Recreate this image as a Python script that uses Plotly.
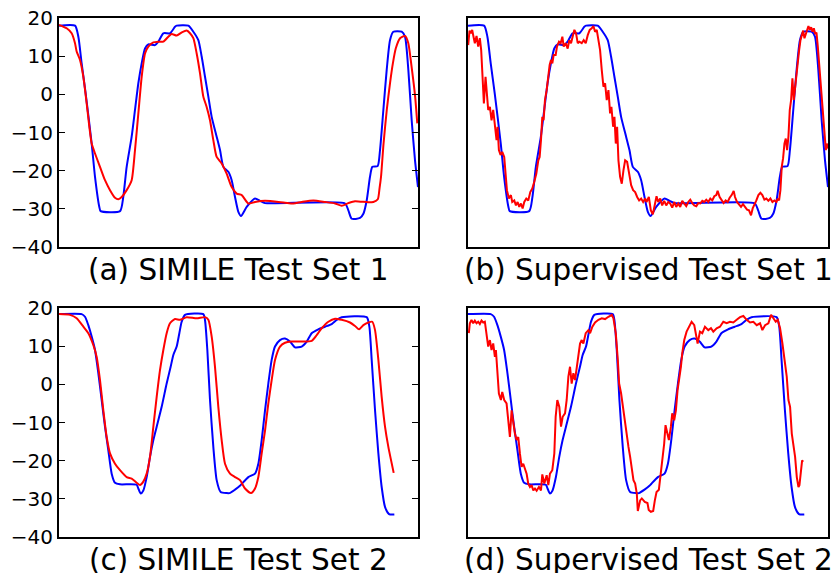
import plotly.graph_objects as go

# ---------------- Test set 1 ----------------
truth1_t = [0, 4.46, 5.39, 6.31, 7.43, 9.1, 10.03, 11.23, 11.6, 17.0, 17.9, 18.85, 20.24, 21.17,
            22.1, 23.03, 23.96, 24.88, 26.74, 27.67, 29.06, 30.92, 32.31, 32.78, 36.03, 37.42,
            38.81, 39.74, 40.67, 41.6, 42.53, 43.92, 44.85, 45.78, 47.17, 48.1, 49.03, 49.96,
            50.7, 52.28, 54.6, 56.0, 57.39, 79.67, 80.6, 81.53, 83.85, 84.78, 85.71, 86.63,
            87.28, 88.77, 89.42, 90.35, 91.28, 92.2, 93.13, 95.46, 96.38, 97.31, 98.24, 99.17, 100]
truth1_v = [18.0, 18.0, 15.1, 8.1, 0.2, -12.9, -21.6, -29.5, -30.6, -30.6, -26.9, -19.0, -11.1, -4.1,
            2.9, 8.1, 12.0, 13.1, 12.9, 13.8, 16.0, 16.0, 17.7, 18.0, 18.0, 16.4,
            14.2, 9.9, 4.6, -0.6, -5.9, -11.1, -14.6, -19.0, -20.3, -22.5, -26.9, -30.8,
            -31.9, -29.5, -27.3, -27.9, -28.5, -28.6, -30.4, -32.6, -32.4, -31.3, -27.8, -21.6,
            -19.0, -18.8, -14.6, -4.1, 6.4, 14.2, 16.4, 16.4, 15.1, 6.4, -6.8, -17.3, -24.3]

simile1_t = [0, 2.14, 3.53, 4.46, 4.92, 5.85, 6.78, 7.71, 8.45, 9.1, 10.03, 11.42, 12.81, 14.21,
             15.6, 16.53, 17.46, 18.85, 20.24, 21.17, 22.1, 23.03, 23.96, 24.88, 26.28, 27.67,
             29.06, 30.45, 31.38, 32.78, 34.17, 35.56, 36.49, 37.42, 38.35, 39.28, 40.2, 41.13,
             42.06, 42.99, 43.92, 45.31, 46.7, 48.1, 49.49, 50.9, 52.74, 54.6, 57.39, 62.96,
             65.28, 67.6, 70.85, 74.1, 76.9, 78.74, 80.6, 82.45, 86.17, 87.56, 88.8, 89.3,
             89.7, 90.4, 91.3, 92.2, 93.0, 93.8, 95.0, 96.4, 97.3, 98.2, 99.2, 99.8]
simile1_v = [18.2, 17.3, 16.0, 13.4, 11.2, 9.0, 4.6, -2.4, -8.5, -12.9, -15.5, -19.0, -22.5, -25.1,
             -27.1, -27.5, -26.9, -25.1, -22.5, -14.6, -5.0, 4.6, 10.7, 12.5, 13.6, 13.8,
             13.8, 15.1, 15.8, 15.4, 16.2, 16.7, 16.0, 14.7, 10.7, 5.5, -0.6, -3.3,
             -6.8, -12.0, -16.4, -18.1, -20.8, -24.3, -26.0, -26.4, -28.6, -28.2, -27.9, -28.4,
             -28.6, -28.2, -27.8, -28.2, -28.6, -29.2, -28.5, -28.0, -28.3, -28.2, -27.5, -24.5,
             -21.6, -12.9, -4.1, 2.9, 8.1, 12.0, 14.7, 15.3, 13.4, 7.3, -0.6, -7.6]

sup1_t = [0.05, 0.42, 0.79, 1.16, 1.53, 1.9, 2.37, 2.83, 3.29, 3.66, 4.04, 4.41, 4.87, 5.24, 5.61,
          6.08, 6.54, 7.0, 7.47, 7.93, 8.21, 8.58, 9.04, 9.51, 10.06, 10.44, 10.81, 11.36, 11.92,
          12.29, 12.85, 13.31, 13.78, 14.24, 14.7, 15.17, 15.63, 16.19, 16.74, 17.3, 17.86, 18.41,
          18.97, 19.53, 19.9, 20.27, 20.64, 21.0, 21.38, 21.85, 22.31, 22.68, 23.05, 23.42, 23.79,
          24.35, 24.72, 25.28, 25.74, 26.21, 26.58, 27.13, 27.69, 28.15, 28.62, 29.08, 29.55,
          30.01, 30.48, 30.94, 31.59, 32.14, 32.7, 33.26, 33.81, 34.37, 34.83, 35.3, 35.76, 36.23,
          36.69, 37.15, 37.62, 38.08, 38.54, 39.01, 39.47, 39.84, 40.31, 40.68, 41.05, 41.42,
          41.79, 42.25, 42.72, 43.18, 43.65, 44.2, 44.76, 45.32, 45.87, 46.43, 46.99, 47.54, 48.1,
          48.65, 49.21, 49.58, 50.23, 50.79, 51.35, 51.9, 52.37, 52.83, 53.39, 53.94, 54.5, 55.06,
          55.61, 56.17, 56.73, 57.28, 57.84, 58.4, 58.95, 59.51, 60.07, 60.62, 61.18, 61.74, 62.29,
          62.85, 63.41, 63.96, 64.52, 65.08, 65.63, 66.19, 66.75, 67.3, 67.86, 68.42, 68.97, 69.34,
          69.9, 70.46, 71.01, 71.57, 72.13, 72.68, 73.24, 73.8, 74.17, 74.72, 75.28, 75.84, 76.39,
          76.95, 77.51, 78.06, 78.62, 79.08, 79.55, 80.1, 80.66, 81.22, 81.77, 82.33, 82.89, 83.44,
          84.0, 84.56, 85.11, 85.67, 86.04, 86.41, 86.78, 87.15, 87.52, 87.9, 88.27, 88.64, 89.01,
          89.38, 89.75, 90.12, 90.49, 90.86, 91.23, 91.61, 91.98, 92.35, 92.72, 93.09, 93.46,
          93.83, 94.2, 94.57, 94.94, 95.32, 95.69, 96.06, 96.43, 96.8, 97.17, 97.54, 97.91, 98.28,
          98.65, 99.03, 99.4, 99.68, 99.96]
sup1_v = [12.9, 16.7, 16.0, 16.9, 15.1, 13.4, 15.3, 12.5, 14.7, 11.6, 4.6, -2.4, 4.6, 1.1, -4.1,
          -3.3, -6.8, -4.1, -7.6, -12.0, -8.5, -14.6, -15.9, -15.1, -16.4, -20.8, -25.1, -27.3, -26.4,
          -28.2, -27.8, -29.1, -28.2, -29.5, -28.6, -29.9, -28.2, -27.3, -27.8, -25.6, -24.7, -22.9,
          -20.8, -17.3, -16.4, -12.0, -5.9, -6.8, -1.5, 1.1, 5.5, 7.7, 9.0, 8.1, 10.3,
          10.3, 12.5, 13.8, 13.4, 15.1, 12.5, 13.4, 12.0, 14.2, 13.4, 15.1, 16.9,
          16.0, 13.4, 13.8, 13.4, 14.2, 13.4, 15.5, 16.9, 17.3, 17.9, 16.4, 16.9, 14.2,
          11.6, 6.4, 2.0, 2.9, -1.5, 1.1, -5.0, -3.3, -8.5, -5.9, -12.9, -8.5,
          -17.3, -21.6, -23.4, -19.9, -17.3, -17.7, -20.8, -23.8, -25.1, -25.6, -26.9, -27.8, -27.3,
          -28.2, -27.3, -28.2, -26.9, -30.4, -31.4, -28.6, -26.7, -28.2, -27.3, -29.1, -27.9, -29.1,
          -28.2, -28.6, -29.7, -28.2, -29.5, -28.6, -29.5, -27.9, -28.5, -29.3, -28.2, -27.6, -28.5,
          -29.1, -29.3, -28.5, -28.6, -27.9, -28.2, -27.6, -28.2, -27.3, -27.8, -26.7, -26.4, -25.3,
          -26.9, -27.9, -28.5, -27.8, -28.2, -27.1, -26.4, -25.3, -26.9, -28.2, -28.8, -29.5, -28.8,
          -29.5, -30.2, -30.4, -31.7, -29.9, -29.1, -27.8, -26.4, -25.8, -26.4, -27.6, -27.3, -27.9,
          -27.3, -28.2, -27.8, -28.2, -27.3, -27.8, -25.1, -19.0, -16.8, -12.9, -11.6, -14.6, -11.1,
          -4.1, -1.5, 4.2, -1.5, 2.0, 6.4, 9.0, 11.6, 14.2, 15.5, 16.7, 14.7,
          16.0, 17.0, 17.9, 16.9, 17.6, 16.4, 17.3, 15.8, 16.2, 12.5, 8.1, 3.7, 0.2,
          -5.0, -9.4, -14.6, -12.9, -14.2]

# ---------------- Test set 2 ----------------
truth2_t = [0, 6.31, 7.24, 8.17, 9.1, 10.03, 10.96, 11.88, 12.81, 13.74, 14.67, 15.6, 16.99, 21.63,
            22.1, 22.75, 23.49, 24.42, 25.35, 26.28, 27.21, 28.6, 29.99, 31.1, 31.85, 32.78, 33.52,
            34.17, 35.1, 40.2, 40.67, 41.32, 42.06, 42.99, 43.92, 45.03, 46.7, 47.5, 49.03, 50.4,
            50.89, 52.74, 54.6, 55.53, 56.46, 57.39, 58.31, 59.24, 60.17, 61.56, 62.96, 64.35,
            65.74, 67.6, 69.0, 70.39, 72.24, 74.1, 75.96, 77.35, 78.74, 85.71, 86.45, 87.1, 88.03,
            88.96, 89.88, 90.81, 91.93, 93.41]
truth2_v = [18.4, 18.4, 17.7, 15.5, 12.5, 9.0, 2.9, -4.1, -11.1, -17.3, -23.4, -25.8, -26.2, -26.3,
            -27.3, -28.6, -27.8, -24.3, -19.0, -14.6, -11.1, -5.9, 0.2, 4.6, 7.7, 9.9, 13.4,
            16.4, 18.2, 18.4, 16.8, 9.0, -4.1, -16.4, -25.1, -28.2, -28.5, -28.5, -27.6, -26.6,
            -26.1, -24.3, -23.4, -20.8, -14.6, -6.8, 0.2, 6.4, 9.9, 11.6, 12.0, 11.2,
            9.7, 9.9, 11.2, 13.4, 14.4, 15.1, 15.8, 16.9, 17.6, 17.6, 15.1, 6.4, -6.8,
            -18.1, -26.9, -32.1, -34.0, -34.1]

simile2_t = [0, 3.06, 4.92, 6.78, 8.17, 9.56, 10.49, 11.42, 12.35, 13.28, 14.21, 15.6, 16.99, 18.85,
             20.24, 21.63, 22.56, 23.49, 24.42, 25.35, 26.28, 27.21, 28.13, 29.06, 29.99, 30.92,
             32.31, 33.7, 35.56, 38.35, 40.67, 41.6, 42.53, 43.45, 44.38, 45.31, 46.24, 47.63, 49.03,
             50.42, 51.82, 53.49, 54.6, 55.53, 56.46, 57.39, 58.31, 59.24, 60.17, 61.56, 62.96,
             64.81, 67.6, 70.39, 71.78, 73.17, 75.03, 76.9, 78.74, 81.06, 82.45, 83.57, 84.78,
             86.17, 87.28, 88.03, 88.96, 89.88, 90.81, 91.74, 93.23]
simile2_v = [18.4, 18.2, 17.3, 15.1, 13.4, 10.3, 7.2, 1.1, -6.8, -13.8, -18.1, -20.8, -22.5, -24.3,
             -24.7, -25.8, -26.4, -25.5, -23.4, -19.0, -11.1, -3.3, 3.7, 9.0, 13.4, 16.0,
             17.1, 16.9, 17.6, 17.3, 17.6, 16.9, 12.5, 4.6, -5.9, -14.6, -20.8, -23.4, -24.3,
             -25.1, -27.3, -28.5, -27.3, -24.3, -18.1, -12.1, -5.0, 1.1, 6.4, 9.9, 10.9,
             11.2, 11.2, 11.4, 12.9, 14.7, 16.4, 17.2, 16.9, 16.2, 15.3, 14.4, 15.5,
             16.2, 16.4, 14.2, 6.4, -3.3, -11.1, -16.4, -23.2]

sup2_t = [0.23, 0.51, 0.97, 1.44, 1.9, 2.37, 2.83, 3.29, 3.76, 4.22, 4.68, 5.15, 5.61, 6.08, 6.54,
          7.0, 7.47, 7.75, 8.21, 8.58, 9.14, 9.51, 10.06, 10.71, 11.18, 11.64, 12.11, 12.57, 13.03,
          13.5, 13.96, 14.42, 14.89, 15.35, 15.82, 16.28, 16.74, 17.21, 17.67, 18.14, 18.6, 19.06,
          19.71, 20.27, 20.64, 21.2, 21.85, 22.31, 22.77, 23.42, 23.98, 24.35, 24.81, 25.37, 25.84,
          26.3, 26.95, 27.41, 27.88, 28.34, 28.8, 29.27, 29.73, 30.2, 30.66, 31.12, 31.59, 32.05,
          32.7, 33.44, 33.91, 34.55, 35.3, 36.23, 37.15, 38.08, 39.01, 39.94, 40.4, 41.05, 41.61,
          41.98, 42.53, 43.18, 43.65, 44.11, 44.57, 45.04, 45.5, 45.96, 46.43, 46.89, 47.17, 47.82,
          48.28, 49.1, 49.85, 50.2, 50.8, 51.44, 51.9, 52.37, 53.02, 53.57, 53.94, 54.5, 54.87,
          55.43, 55.8, 56.36, 56.73, 57.28, 57.75, 58.21, 58.67, 59.14, 59.51, 60.07, 60.72, 61.36,
          62.11, 62.85, 63.22, 63.78, 64.43, 65.08, 65.82, 66.75, 67.49, 68.14, 69.06, 69.99,
          70.92, 71.85, 72.77, 73.7, 74.63, 75.56, 76.49, 77.41, 78.34, 79.27, 80.2, 81.12, 81.77,
          82.52, 83.44, 84.19, 84.83, 85.48, 86.04, 86.69, 87.34, 87.9, 88.54, 89.01, 89.47,
          89.94, 90.4, 90.86, 91.33, 91.79, 92.07, 92.44, 92.81, 93.09]
sup2_v = [13.4, 16.0, 16.9, 16.0, 16.7, 16.0, 16.4, 15.8, 16.7, 16.2, 16.4, 13.4, 9.9, 11.6, 9.0,
          10.7, 7.2, 9.0, 3.7, -2.4, -4.1, -2.0, -4.1, -5.0, -9.4, -13.8, -6.8, -10.3, -12.9,
          -14.6, -13.8, -18.1, -21.6, -20.8, -22.5, -23.4, -26.0, -26.9, -26.4, -27.8, -27.3, -27.9,
          -26.9, -27.8, -23.6, -26.0, -23.8, -26.4, -23.4, -22.5, -18.1, -8.5, -4.1, -5.9, -11.1,
          -8.5, -7.6, -4.1, 2.0, 4.6, 0.2, 2.9, 1.1, 4.6, 8.1, 10.7, 11.6, 10.7,
          13.4, 14.2, 13.4, 15.1, 16.2, 16.9, 17.3, 17.1, 17.7, 18.2, 17.3, 13.4, 6.4,
          0.2, -2.4, -6.8, -11.1, -12.9, -16.4, -19.0, -21.6, -25.1, -26.0, -28.6, -33.2, -30.4,
          -29.9, -30.8, -31.1, -32.9, -33.4, -33.2, -30.4, -28.2, -27.6, -23.4, -20.8, -15.5, -10.7,
          -12.9, -14.6, -11.1, -7.6, -9.4, -6.8, -1.5, 1.1, 4.6, 8.1, 11.6, 13.8, 15.1,
          16.4, 15.5, 13.4, 10.7, 13.8, 13.4, 15.1, 14.2, 14.7, 13.8, 14.7, 15.1,
          16.4, 16.0, 16.4, 16.2, 16.9, 17.6, 17.9, 16.9, 16.2, 16.4, 15.5, 16.0, 14.2,
          15.5, 16.0, 18.2, 17.3, 16.4, 16.9, 14.7, 10.7, 6.4, 2.0, -4.1, -5.9,
          -12.9, -15.5, -19.0, -24.3, -26.9, -26.4, -23.4, -19.9, -20.3]

captions = ["(a) SIMILE Test Set 1", "(b) Supervised Test Set 1",
            "(c) SIMILE Test Set 2", "(d) Supervised Test Set 2"]
y_ticks = [-40, -30, -20, -10, 0, 10, 20]
x_range = [0, 100]
y_range = [-40, 20]

W, H = 839, 573
FONT = "DejaVu Sans"
BLUE, RED = "#0000ff", "#ff0000"
CAPTION_GAP_PX = 23  # from the bottom frame edge to the caption centre

# panel frames in pixels: (left, right, top, bottom)
frames = [(59, 418, 18, 247), (468, 828, 18, 247),
          (59, 418, 308, 537), (468, 828, 308, 537)]

panels = [
    (truth1_t, truth1_v, simile1_t, simile1_v, "spline"),
    (truth1_t, truth1_v, sup1_t, sup1_v, "linear"),
    (truth2_t, truth2_v, simile2_t, simile2_v, "spline"),
    (truth2_t, truth2_v, sup2_t, sup2_v, "linear"),
]

fig = go.Figure()
layout = dict(template="none", width=W, height=H, margin=dict(l=0, r=0, t=0, b=0, pad=0),
              paper_bgcolor="white", plot_bgcolor="white", showlegend=False,
              font=dict(family=FONT, color="black"))
annotations = []

for i, ((tt, tv, pt, pv, shape), (l, r, t, b)) in enumerate(zip(panels, frames)):
    n = "" if i == 0 else str(i + 1)
    xa, ya = "x" + n, "y" + n
    fig.add_trace(go.Scatter(x=tt, y=tv, mode="lines", xaxis=xa, yaxis=ya,
                             line=dict(color=BLUE, width=2, shape="spline", smoothing=0.6)))
    pred_line = dict(color=RED, width=2, shape=shape)
    if shape == "spline":
        pred_line["smoothing"] = 0.6
    fig.add_trace(go.Scatter(x=pt, y=pv, mode="lines", xaxis=xa, yaxis=ya, line=pred_line))

    labelled = i in (0, 2)
    layout["xaxis" + n] = dict(domain=[l / W, r / W], range=x_range, anchor=ya,
                               automargin=False, showgrid=False, zeroline=False,
                               showticklabels=False, ticks="", showline=True, mirror=True,
                               linecolor="black", linewidth=2)
    layout["yaxis" + n] = dict(domain=[1 - b / H, 1 - t / H], range=y_range, anchor=xa,
                               automargin=False, showgrid=False, zeroline=False,
                               tickvals=y_ticks if labelled else [],
                               showticklabels=labelled,
                               ticks="inside" if labelled else "", ticklen=6,
                               tickcolor="black", tickwidth=1,
                               tickfont=dict(family=FONT, size=20, color="black"),
                               showline=True, mirror="ticks" if labelled else True,
                               linecolor="black", linewidth=2)
    annotations.append(dict(text=captions[i], xref="paper", yref="paper",
                            x=(l + r) / 2 / W, y=1 - (b + CAPTION_GAP_PX) / H,
                            xanchor="center", yanchor="middle", showarrow=False,
                            font=dict(family=FONT, size=29.5, color="black")))

layout["annotations"] = annotations
fig.update_layout(**layout)
fig.write_html("out.html")
